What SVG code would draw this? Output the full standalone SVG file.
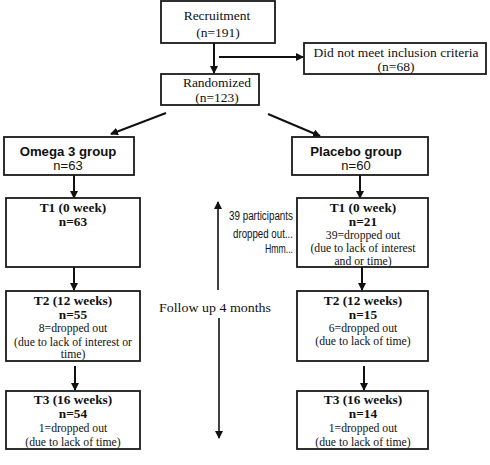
<svg xmlns="http://www.w3.org/2000/svg" width="490" height="465" viewBox="0 0 490 465">
<style>
.box{fill:#fff;stroke:#1a1a1a;stroke-width:1.8}
.t{font-family:"Liberation Serif","Times New Roman",serif;font-size:13.5px;fill:#111;text-anchor:middle}
.d{font-family:"Liberation Serif","Times New Roman",serif;font-size:11.7px;fill:#111;text-anchor:middle}
.b{font-family:"Liberation Serif","Times New Roman",serif;font-size:13.3px;font-weight:bold;fill:#111;text-anchor:middle}
.s{font-family:"Liberation Sans",Arial,sans-serif;font-size:13.2px;font-weight:bold;fill:#111;text-anchor:middle}
.n{font-family:"Liberation Sans",Arial,sans-serif;font-size:13px;fill:#111;text-anchor:middle}
.g{font-family:"Liberation Sans",Arial,sans-serif;font-size:12.5px;fill:#111;text-anchor:end}
.f{font-family:"Liberation Serif","Times New Roman",serif;font-size:13px;fill:#111;text-anchor:start}
.c{stroke:#111;stroke-width:2;fill:none}
</style>
<defs>
<marker id="ah" markerWidth="8" markerHeight="8" refX="7" refY="4" orient="auto" markerUnits="userSpaceOnUse">
<path d="M0,0 L8,4 L0,8 Z" fill="#111"/>
</marker>
</defs>
<rect width="490" height="465" fill="#fff"/>
<g id="connectors">
<line class="c" x1="214" y1="43" x2="214" y2="73" marker-end="url(#ah)"/>
<line class="c" x1="219" y1="57" x2="303" y2="57" marker-end="url(#ah)"/>
<line class="c" x1="166" y1="113" x2="111" y2="134" marker-end="url(#ah)"/>
<line class="c" x1="268" y1="114" x2="320" y2="136" marker-end="url(#ah)"/>
<line class="c" x1="74" y1="175" x2="74" y2="198" marker-end="url(#ah)"/>
<line class="c" x1="360" y1="175" x2="360" y2="198" marker-end="url(#ah)"/>
<line class="c" x1="74" y1="267" x2="74" y2="290" marker-end="url(#ah)"/>
<line class="c" x1="362" y1="267" x2="362" y2="290" marker-end="url(#ah)"/>
<line class="c" x1="75" y1="366" x2="75" y2="390" marker-end="url(#ah)"/>
<line class="c" x1="364" y1="366" x2="364" y2="390" marker-end="url(#ah)"/>
<line class="c" x1="218" y1="290" x2="218" y2="202" marker-end="url(#ah)" style="stroke-width:1.6"/>
<line class="c" x1="219" y1="318" x2="219" y2="438" marker-end="url(#ah)" style="stroke-width:1.6"/>
</g>
<g id="recruitment">
<rect class="box" x="161" y="1" width="114" height="42"/>
<text class="t" x="217" y="19.5">Recruitment</text>
<text class="t" x="218" y="36.5">(n=191)</text>
</g>
<g id="excluded">
<rect class="box" x="304" y="43" width="182" height="31"/>
<text class="t" x="396" y="56.5">Did not meet inclusion criteria</text>
<text class="t" x="396" y="70.5">(n=68)</text>
</g>
<g id="randomized">
<rect class="box" x="161" y="74" width="98" height="31"/>
<text class="t" x="217" y="86.5">Randomized</text>
<text class="t" x="217" y="101.5">(n=123)</text>
</g>
<g id="omega">
<rect class="box" x="4" y="137" width="130" height="38"/>
<text class="s" x="68" y="156">Omega 3 group</text>
<text class="n" x="68" y="170">n=63</text>
</g>
<g id="placebo">
<rect class="box" x="292" y="137" width="136" height="38"/>
<text class="s" x="356" y="156">Placebo group</text>
<text class="n" x="356" y="170">n=60</text>
</g>
<g id="omega-t1">
<rect class="box" x="6" y="198" width="134" height="69"/>
<text class="b" x="73" y="212">T1 (0 week)</text>
<text class="b" x="73" y="226">n=63</text>
</g>
<g id="omega-t2">
<rect class="box" x="6" y="291" width="134" height="70"/>
<text class="b" x="73" y="305">T2 (12 weeks)</text>
<text class="b" x="73" y="318.5">n=55</text>
<text class="d" x="73" y="332">8=dropped out</text>
<text class="d" x="73" y="345.5">(due to lack of interest or</text>
<text class="d" x="73" y="358">time)</text>
</g>
<g id="omega-t3">
<rect class="box" x="6" y="391" width="134" height="58"/>
<text class="b" x="73" y="404">T3 (16 weeks)</text>
<text class="b" x="73" y="418">n=54</text>
<text class="d" x="73" y="432">1=dropped out</text>
<text class="d" x="73" y="446">(due to lack of time)</text>
</g>
<g id="placebo-t1">
<rect class="box" x="297" y="198" width="131" height="69"/>
<text class="b" x="363" y="212">T1 (0 week)</text>
<text class="b" x="363" y="226">n=21</text>
<text class="d" x="363" y="239">39=dropped out</text>
<text class="d" x="363" y="252">(due to lack of interest</text>
<text class="d" x="363" y="265">and or time)</text>
</g>
<g id="placebo-t2">
<rect class="box" x="297" y="291" width="131" height="70"/>
<text class="b" x="363" y="305">T2 (12 weeks)</text>
<text class="b" x="363" y="318.5">n=15</text>
<text class="d" x="363" y="332">6=dropped out</text>
<text class="d" x="363" y="345">(due to lack of time)</text>
</g>
<g id="placebo-t3">
<rect class="box" x="297" y="391" width="131" height="58"/>
<text class="b" x="363" y="404">T3 (16 weeks)</text>
<text class="b" x="363" y="418">n=14</text>
<text class="d" x="363" y="432">1=dropped out</text>
<text class="d" x="363" y="446">(due to lack of time)</text>
</g>
<g id="annotation">
<text class="g" x="293" y="220" textLength="64" lengthAdjust="spacingAndGlyphs">39 participants</text>
<text class="g" x="293" y="238" textLength="60" lengthAdjust="spacingAndGlyphs">dropped out...</text>
<text class="g" x="293" y="253" textLength="28" lengthAdjust="spacingAndGlyphs">Hmm...</text>
</g>
<g id="follow-up">
<text class="f" x="159" y="312" textLength="112" lengthAdjust="spacingAndGlyphs">Follow up 4 months</text>
</g>
</svg>
